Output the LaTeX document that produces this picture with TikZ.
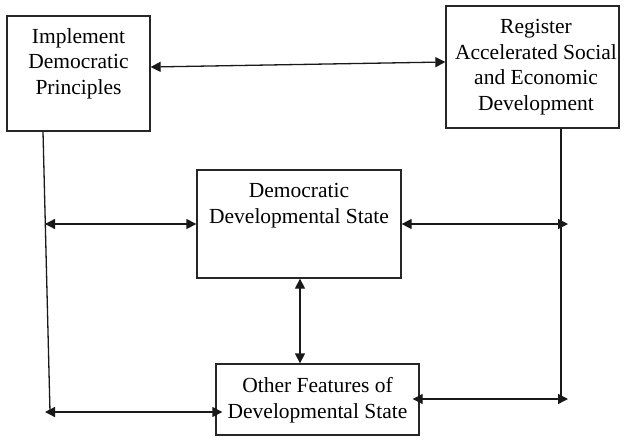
\documentclass[tikz,border=0pt]{standalone}
\usepackage{fontspec}
\setmainfont{Liberation Serif}
\usetikzlibrary{arrows.meta}
\tikzset{
  box/.style={draw=black!85, line width=1.3pt, inner sep=0pt},
  txt/.style={anchor=north, inner sep=0pt, align=center, font=\fontsize{21.5}{25.7}\selectfont},
  conn/.style={line width=1.3pt, draw=black!90},
  dbl/.style={conn, {Triangle[length=10pt,width=10pt]}-{Triangle[length=10pt,width=10pt]}},
}
\begin{document}
\begin{tikzpicture}[x=1pt,y=-1pt]
\useasboundingbox (0,0) rectangle (631,439);
% boxes
\node[box, minimum width=143pt, minimum height=115pt] (tl) at (78.5,73.5) {};
\node[box, minimum width=173pt, minimum height=122pt] (tr) at (532.5,67) {};
\node[box, minimum width=204pt, minimum height=108pt] (mid) at (299,224) {};
\node[box, minimum width=203pt, minimum height=71pt] (bot) at (317.5,399.5) {};
% texts
\node[txt] (tltext) at (78.5,28) {Implement\\Democratic\\Principles};
\node[txt] (trtext) at (536,19) {Register\\Accelerated Social\\and Economic\\Development};
\node[txt] (midtext) at (299,183) {Democratic\\Developmental State};
\node[txt] (bottext) at (317.5,377) {Other Features of\\Developmental State};
% free ends
\coordinate (Lbot) at (50,412);
\coordinate (Lmid) at (45,224);
\coordinate (Lend) at (45,412);
\coordinate (Rbot) at (561,399);
\coordinate (Rmid) at (568,224);
\coordinate (Rend) at (568,399);
% connectors
\draw[dbl] ([yshift=6.5pt]tl.east) -- ([yshift=5pt]tr.west);
\draw[conn] ([xshift=-35.5pt]tl.south) -- (Lbot);
\draw[conn] ([xshift=28.5pt]tr.south) -- (Rbot);
\draw[dbl] (Lmid) -- (mid.west);
\draw[dbl] (mid.east) -- (Rmid);
\draw[dbl] ([xshift=1pt]mid.south) -- ([xshift=-17.5pt]bot.north);
\draw[dbl] (Lend) -- ([xshift=7pt,yshift=-12.5pt]bot.west);
\draw[dbl] ([xshift=-7pt,yshift=0.5pt]bot.east) -- (Rend);
\end{tikzpicture}
\end{document}
